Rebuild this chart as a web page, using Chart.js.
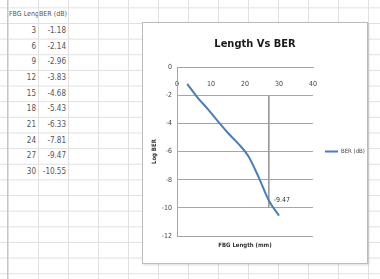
<!DOCTYPE html>
<html lang="en">
<head>
  <meta charset="UTF-8" />
  <title>Length Vs BER</title>
  <script src="https://cdn.jsdelivr.net/npm/chart.js"></script>
  <style>
    html, body { margin: 0; padding: 0; }
    body {
      width: 380px;
      height: 279px;
      overflow: hidden;
      position: relative;
      background-color: #fff;
      background-image:
        linear-gradient(to right, #e0e0e0 1px, transparent 1px),
        linear-gradient(to bottom, #e0e0e0 1px, transparent 1px);
      background-size: 30px 15.65px;
      background-position: 8px 7.35px;
      font-family: "Liberation Sans Narrow", "DejaVu Sans Condensed", "Liberation Sans", sans-serif;
    }
    .edge { position: absolute; left: 7px; top: 0; width: 1px; height: 279px; background: #b8c8dc; }
    .cell {
      position: absolute;
      width: 26px;
      height: 15px;
      line-height: 15px;
      padding: 0 2px;
      font-size: 8px;
      color: #555;
      white-space: nowrap;
      overflow: hidden;
    }
    .cell.head { font-size: 7px; padding: 0 1px; width: 28px; }
    .box {
      position: absolute;
      left: 142px;
      top: 22px;
      width: 224px;
      height: 240px;
      border: 1px solid #bcbcbc;
      background: #fff;
      box-shadow: 1px 1px 2px rgba(0, 0, 0, 0.15);
    }
  </style>
</head>
<body>
  <div class="edge"></div>
  <div id="sheet"></div>
  <div class="box">
    <canvas id="chart" width="224" height="240"></canvas>
  </div>

  <script>
    const lengths = [3, 6, 9, 12, 15, 18, 21, 24, 27, 30];
    const ber = [-1.18, -2.14, -2.96, -3.83, -4.68, -5.43, -6.33, -7.81, -9.47, -10.55];
    const xTicks = [0, 10, 20, 30, 40];
    const yTicks = [0, -2, -4, -6, -8, -10, -12];
    const guideX = [27, 27];
    const guideY = [-2, -10];
    const labelIndex = 8;

    const fontStack = '"Liberation Sans Narrow", "DejaVu Sans Condensed", "Liberation Sans", sans-serif';

    // spreadsheet cells
    const sheet = document.getElementById('sheet');
    function cell(text, col, row, align, cls) {
      const d = document.createElement('div');
      d.className = 'cell' + (cls ? ' ' + cls : '');
      d.style.left = (8 + col * 30) + 'px';
      d.style.top = (7.35 + row * 15.65) + 'px';
      d.style.textAlign = align;
      d.textContent = text;
      sheet.appendChild(d);
    }
    cell('FBG Length (mm)', 0, 0, 'left', 'head');
    cell('BER (dB)', 1, 0, 'left', 'head');
    lengths.forEach((v, i) => {
      cell(String(v), 0, i + 1, 'right');
      cell(ber[i].toFixed(2), 1, i + 1, 'right');
    });

    // "-9.47" data label next to its point
    const pointLabel = {
      id: 'pointLabel',
      afterDatasetsDraw(chart) {
        const pt = chart.getDatasetMeta(0).data[labelIndex];
        const c = chart.ctx;
        c.save();
        c.font = '7px ' + fontStack;
        c.fillStyle = '#333';
        c.textAlign = 'left';
        c.textBaseline = 'middle';
        c.fillText(ber[labelIndex].toFixed(2), pt.x + 5, pt.y);
        c.restore();
      }
    };

    Chart.defaults.font.family = fontStack;

    const ctx = document.getElementById('chart').getContext('2d');
    new Chart(ctx, {
      type: 'scatter',
      data: {
        datasets: [
          {
            label: 'BER (dB)',
            data: lengths.map((x, i) => ({ x: x, y: ber[i] })),
            showLine: true,
            borderColor: '#4a7ebb',
            backgroundColor: '#4a7ebb',
            borderWidth: 2,
            pointRadius: 0,
            tension: 0.4,
            cubicInterpolationMode: 'monotone',
            xAxisID: 'x',
            yAxisID: 'y'
          },
          {
            label: 'guide',
            data: guideX.map((x, i) => ({ x: x, y: guideY[i] })),
            showLine: true,
            borderColor: '#999',
            borderWidth: 1,
            pointRadius: 0,
            xAxisID: 'x',
            yAxisID: 'y'
          }
        ]
      },
      options: {
        responsive: false,
        animation: false,
        devicePixelRatio: 1,
        layout: { padding: 0 },
        plugins: {
          title: {
            display: true,
            text: 'Length Vs BER',
            color: '#1a1a1a',
            font: { size: 11, weight: 'bold' },
            padding: { top: 15, bottom: 16 }
          },
          legend: {
            position: 'right',
            fullSize: false,
            maxWidth: 54,
            labels: {
              filter: item => item.datasetIndex === 0,
              usePointStyle: true,
              pointStyle: 'line',
              pointStyleWidth: 13,
              padding: 12,
              color: '#444',
              font: { size: 6 }
            }
          },
          tooltip: { enabled: false }
        },
        scales: {
          x: {
            type: 'linear',
            position: 'top',
            min: 0,
            max: 40,
            afterBuildTicks: s => { s.ticks = xTicks.map(v => ({ value: v })); },
            afterFit: s => { s.height = 0; },
            grid: { display: false },
            border: { display: true, color: '#a6a6a6', width: 1 },
            ticks: { mirror: true, padding: 13, maxRotation: 0, color: '#444', font: { size: 7 } }
          },
          xb: {
            type: 'linear',
            position: 'bottom',
            min: 0,
            max: 40,
            afterFit: s => { s.height = 27; },
            grid: { display: false },
            border: { display: false },
            ticks: { display: false },
            title: {
              display: true,
              text: 'FBG Length (mm)',
              color: '#333',
              font: { size: 6, weight: 'bold' },
              padding: { top: 0, bottom: 14 }
            }
          },
          y: {
            type: 'linear',
            position: 'left',
            min: -12,
            max: 0,
            afterBuildTicks: s => { s.ticks = yTicks.map(v => ({ value: v })); },
            afterFit: s => { s.width = 34; },
            grid: { color: '#a6a6a6', drawTicks: false },
            border: { color: '#a6a6a6' },
            ticks: { padding: 5, color: '#444', font: { size: 7 } },
            title: {
              display: true,
              text: 'Log BER',
              color: '#333',
              font: { size: 6, weight: 'bold' },
              padding: { top: 8, bottom: 0 }
            }
          }
        }
      },
      plugins: [pointLabel]
    });
  </script>
</body>
</html>
